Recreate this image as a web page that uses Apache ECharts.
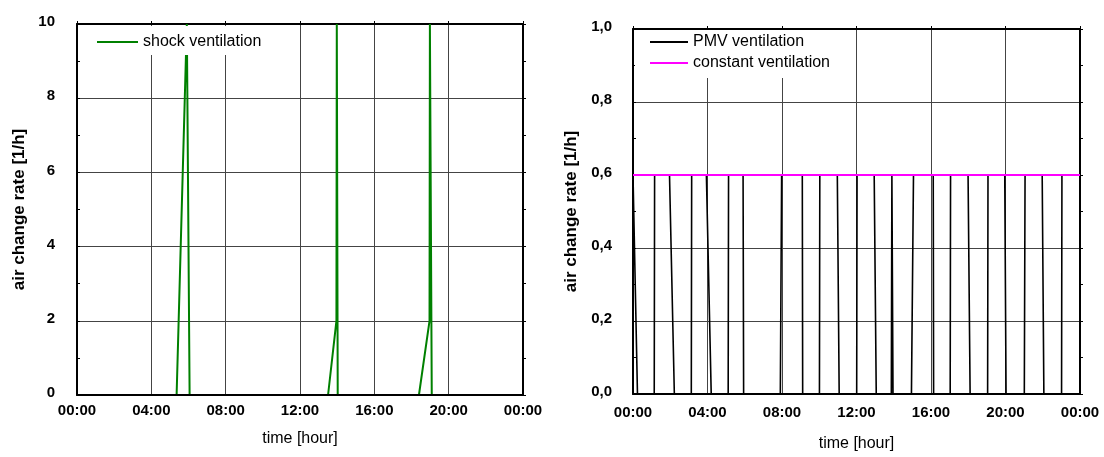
<!DOCTYPE html>
<html>
<head>
<meta charset="utf-8">
<script src="https://cdn.jsdelivr.net/npm/echarts@6/dist/echarts.min.js"></script>
<style>
  html, body { margin: 0; padding: 0; background: #fff; }
  #main { width: 1104px; height: 457px; }
</style>
</head>
<body>
<div id="main"></div>
<script>
// data (hours of the day, air change rate in 1/h)
var hourTicks = [0, 4, 8, 12, 16, 20, 24];

var shockHours = [0, 5.36, 5.91, 6.06, 13.51, 13.96, 13.98, 14.03, 18.40, 18.97, 18.99, 19.09, 24];
var shockRate  = [0, 0,    10,   0,    0,     2,     10,    0,     0,     2,     10,    0,     0];

var pmvHours = [0, 0.24, 1.14, 1.16, 1.96, 2.22, 3.13, 3.15, 3.94, 4.2, 5.11, 5.13, 5.91, 5.94,
                7.91, 7.98, 9.09, 9.11, 10.01, 10.03, 10.97, 11.07, 12.01, 12.03, 12.95, 13.06,
                13.87, 13.9, 13.93, 13.96, 14.95, 15.06, 16.12, 16.14, 17.03, 17.05, 17.99, 18.1,
                19.04, 19.06, 19.96, 20.03, 21.01, 21.05, 21.97, 22.06, 23.01, 23.03, 24];
var pmvRate  = [0.6, 0, 0, 0.6, 0.6, 0, 0, 0.6, 0.6, 0, 0, 0.6, 0.6, 0,
                0, 0.6, 0.6, 0, 0, 0.6, 0.6, 0, 0, 0.6, 0.6, 0,
                0, 0.6, 0.6, 0, 0, 0.6, 0.6, 0, 0, 0.6, 0.6, 0,
                0, 0.6, 0.6, 0, 0, 0.6, 0.6, 0, 0, 0.6, 0.6];

var constHours = [0, 24];
var constRate  = [0.6, 0.6];

function pairs(xs, ys) {
    return xs.map(function (x, i) { return [x, ys[i]]; });
}

var font = "'Liberation Sans', Arial, sans-serif";
var gridColor = '#444';

function hourLabel(v) {
    var h = v % 24;
    return (h < 10 ? '0' + h : '' + h) + ':00';
}

// bottom axis sits on its own layer so the zero-level lines stay under it
function bottomAxis(gi, gap, margin) {
    return {
        type: 'value', gridIndex: gi, position: 'bottom', zlevel: 1,
        min: 0, max: 24, interval: 4,
        name: 'time [hour]', nameLocation: 'middle', nameGap: gap,
        nameTextStyle: { fontFamily: font, fontSize: 16, color: '#000' },
        axisLine: { show: true, onZero: false, lineStyle: { color: '#000', width: 2 } },
        axisTick: { show: false },
        splitLine: { show: false },
        axisLabel: { formatter: hourLabel, margin: margin, fontFamily: font, fontSize: 15,
                     fontWeight: 'bold', color: '#000' }
    };
}

function topAxis(gi) {
    return {
        type: 'value', gridIndex: gi, position: 'top',
        min: 0, max: 24, interval: 4,
        axisLine: { show: true, onZero: false, lineStyle: { color: '#000', width: 2 } },
        axisTick: { show: true, length: 3, lineStyle: { color: '#000' } },
        axisLabel: { show: false },
        splitLine: { show: true, lineStyle: { color: gridColor, width: 1 } }
    };
}

function leftAxis(gi, max, step, fmt, gap, margin) {
    return {
        type: 'value', gridIndex: gi, position: 'left',
        min: 0, max: max, interval: step,
        name: 'air change rate [1/h]', nameLocation: 'middle', nameRotate: 90, nameGap: gap,
        nameTextStyle: { fontFamily: font, fontSize: 17, fontWeight: 'bold', color: '#000' },
        axisLine: { show: true, onZero: false, lineStyle: { color: '#000', width: 2 } },
        axisTick: { show: true, inside: true, length: 3, lineStyle: { color: '#000' } },
        minorTick: { show: true, splitNumber: 2, length: 3, lineStyle: { color: '#000' } },
        splitLine: { show: true, lineStyle: { color: gridColor, width: 1 } },
        axisLabel: { formatter: fmt, margin: margin, verticalAlign: 'bottom', lineHeight: 4,
                     fontFamily: font, fontSize: 15, fontWeight: 'bold', color: '#000' }
    };
}

function rightAxis(gi, max, step) {
    return {
        type: 'value', gridIndex: gi, position: 'right',
        min: 0, max: max, interval: step,
        axisLine: { show: true, onZero: false, lineStyle: { color: '#000', width: 2 } },
        axisTick: { show: true, length: 3, lineStyle: { color: '#000' } },
        minorTick: { show: true, splitNumber: 2, length: 3, lineStyle: { color: '#000' } },
        axisLabel: { show: false },
        splitLine: { show: false }
    };
}

var chart = echarts.init(document.getElementById('main'));

chart.setOption({
    animation: false,
    backgroundColor: '#fff',
    textStyle: { fontFamily: font },
    grid: [
        { left: 77, top: 24, width: 446, height: 371 },
        { left: 633, top: 29, width: 447, height: 371 }
    ],
    xAxis: [bottomAxis(0, 36, 8), topAxis(0), bottomAxis(1, 42, 11), topAxis(1)],
    yAxis: [
        leftAxis(0, 10, 2, function (v) { return '' + v; }, 49, 22),
        rightAxis(0, 10, 2),
        leftAxis(1, 1, 0.2, function (v) { return v.toFixed(1).replace('.', ','); }, 53, 21),
        rightAxis(1, 1, 0.2)
    ],
    legend: [
        {
            data: ['shock ventilation'],
            left: 84, top: 26, orient: 'vertical', icon: 'rect',
            backgroundColor: '#fff', padding: [7, 6, 4, 13],
            itemWidth: 41, itemHeight: 2, itemGap: 3,
            textStyle: { fontFamily: font, fontSize: 16, color: '#000', lineHeight: 18 }
        },
        {
            data: ['PMV ventilation', 'constant ventilation'],
            left: 635, top: 30, orient: 'vertical', icon: 'rect',
            backgroundColor: '#fff', padding: [3, 25, 6, 15],
            itemWidth: 38, itemHeight: 2, itemGap: 3,
            textStyle: { fontFamily: font, fontSize: 16, color: '#000', lineHeight: 18 }
        }
    ],
    series: [
        {
            name: 'shock ventilation', type: 'line', xAxisIndex: 0, yAxisIndex: 0,
            data: pairs(shockHours, shockRate), symbol: 'none', color: '#008000',
            lineStyle: { color: '#008000', width: 2 }
        },
        {
            name: 'PMV ventilation', type: 'line', xAxisIndex: 2, yAxisIndex: 2,
            data: pairs(pmvHours, pmvRate), symbol: 'none', color: '#000',
            lineStyle: { color: '#000', width: 1.6 }
        },
        {
            name: 'constant ventilation', type: 'line', xAxisIndex: 2, yAxisIndex: 2,
            data: pairs(constHours, constRate), symbol: 'none', color: '#ff00ff',
            lineStyle: { color: '#ff00ff', width: 2 }
        }
    ]
});
</script>
</body>
</html>
